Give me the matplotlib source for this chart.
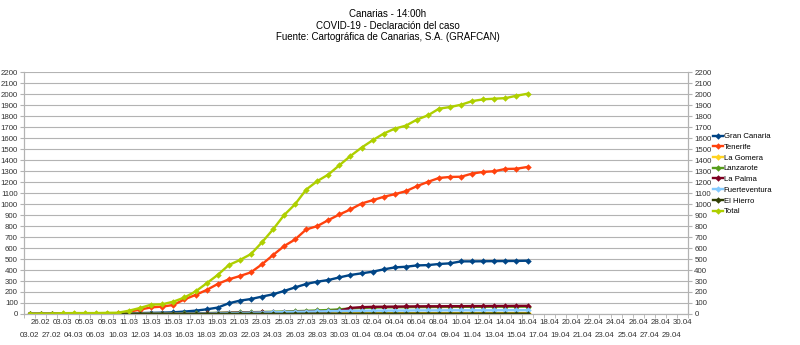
import numpy as np
import matplotlib.pyplot as plt

plt.rcParams['font.family'] = ['Liberation Sans', 'DejaVu Sans']

# categories (dates as in the source sheet)
dates = ['03.02', '26.02', '27.02', '03.03', '04.03', '05.03', '06.03', '09.03']
dates += ['%02d.03' % d for d in range(10, 32)]
dates += ['%02d.04' % d for d in range(1, 31)]

gran_canaria = [0, 0, 0, 2, 3, 3, 3, 3, 4, 6, 8, 10, 12, 15, 22, 30, 42, 58, 97, 121,
                136, 158, 179, 209, 242, 273, 294, 309, 333, 355, 370, 385, 406, 424, 430, 442,
                445, 455, 461, 479, 479, 480, 481, 482, 483, 485]
tenerife = [0, 1, 2, 3, 3, 3, 3, 4, 5, 20, 40, 60, 67, 82, 133, 173, 218, 273, 315, 345,
            379, 452, 536, 618, 679, 770, 800, 855, 906, 952, 1006, 1036, 1067, 1091, 1118, 1164,
            1203, 1239, 1248, 1250, 1279, 1294, 1300, 1321, 1323, 1339]
la_gomera = [1, 1, 1, 1, 1, 1, 1, 1, 1, 1, 1, 1, 1, 1, 1, 2, 2, 2, 3, 3,
             3, 3, 4, 4, 4, 5, 5, 5, 5, 6, 6, 6, 7, 7, 7, 7,
             7, 8, 8, 8, 8, 8, 8, 8, 8, 8]
lanzarote = [0, 0, 0, 0, 0, 0, 0, 0, 0, 1, 2, 3, 3, 4, 5, 6, 8, 10, 12, 14,
             16, 18, 20, 22, 25, 28, 32, 36, 42, 50, 55, 58, 60, 61, 62, 63,
             63, 64, 64, 65, 65, 65, 66, 66, 66, 67]
la_palma = [0, 0, 0, 0, 0, 0, 0, 0, 0, 0, 0, 0, 1, 2, 2, 3, 5, 8, 10, 12,
            13, 14, 15, 17, 19, 21, 23, 25, 30, 55, 62, 65, 66, 67, 68, 69,
            70, 70, 71, 71, 72, 72, 73, 73, 74, 74]
fuerteventura = [0, 0, 0, 0, 0, 0, 0, 0, 0, 0, 0, 1, 1, 1, 2, 3, 4, 5, 7, 9,
                 11, 13, 15, 17, 19, 21, 23, 25, 27, 28, 29, 30, 30, 31, 31, 32,
                 32, 32, 33, 33, 33, 33, 33, 34, 34, 34]
el_hierro = [0, 0, 0, 0, 0, 0, 0, 0, 0, 0, 0, 0, 0, 0, 0, 0, 1, 1, 1, 1,
             1, 1, 1, 1, 2, 2, 2, 2, 2, 2, 3, 3, 3, 3, 3, 3,
             3, 3, 3, 3, 3, 3, 3, 3, 3, 3]
total = [1, 2, 3, 7, 8, 8, 8, 10, 11, 30, 55, 85, 88, 112, 150, 205, 279, 355, 445, 491,
         545, 652, 770, 900, 1000, 1133, 1210, 1270, 1355, 1439, 1515, 1582, 1643, 1688, 1715, 1770,
         1809, 1870, 1885, 1906, 1939, 1955, 1961, 1966, 1988, 2006]

series = [('Gran Canaria', gran_canaria, '#004586'),
          ('Tenerife', tenerife, '#ff420e'),
          ('La Gomera', la_gomera, '#ffd320'),
          ('Lanzarote', lanzarote, '#579d1c'),
          ('La Palma', la_palma, '#7e0021'),
          ('Fuerteventura', fuerteventura, '#83caff'),
          ('El Hierro', el_hierro, '#314004'),
          ('Total', total, '#aecf00')]

fig = plt.figure(figsize=(8, 3.45), dpi=100)
ax = fig.add_axes([0.03, 0.09, 0.83, 0.70])

x = np.arange(len(dates))
for name, vals, col in series:
    ax.plot(x[:len(vals)], vals, color=col, lw=1.7, marker='D', ms=3.3,
            markeredgewidth=0, label=name, zorder=3)

ax.set_xlim(-0.5, len(dates) - 0.5)
ax.set_ylim(0, 2200)
ax.set_yticks(np.arange(0, 2201, 100))
ax.yaxis.grid(True, color='#b3b3b3', lw=0.8)
ax.set_axisbelow(True)

lab_size = 5.7
# dates are staggered on two rows: odd positions above, even ones below
ax.set_xticks(x[1::2])
ax.set_xticklabels(dates[1::2], fontsize=lab_size, color='#333333')
ax.set_xticks(np.arange(-0.5, len(dates), 1), minor=True)
ax.tick_params(axis='x', which='major', length=0, pad=3.5)
ax.tick_params(axis='x', which='minor', length=3, color='#b3b3b3')
ax.tick_params(axis='y', labelsize=lab_size, labelcolor='#333333', length=3, color='#b3b3b3', pad=1.5)

sec = ax.secondary_xaxis('bottom')
sec.set_xticks(x[0::2])
sec.set_xticklabels(dates[0::2], fontsize=lab_size, color='#333333')
sec.tick_params(axis='x', length=0, pad=13)
sec.spines['bottom'].set_visible(False)

ax2 = ax.twinx()
ax2.set_ylim(0, 2200)
ax2.set_yticks(np.arange(0, 2201, 100))
ax2.tick_params(axis='y', labelsize=lab_size, labelcolor='#333333', length=3, color='#b3b3b3', pad=1.5)

for a in (ax, ax2):
    a.spines['top'].set_visible(False)
    for s in ('left', 'right', 'bottom'):
        a.spines[s].set_color('#b3b3b3')

ax.legend(loc='upper left', bbox_to_anchor=(0.891, 0.615), bbox_transform=fig.transFigure,
          frameon=False, fontsize=5.6, handlelength=1.3, handletextpad=0.1,
          labelspacing=0.42, borderaxespad=0, borderpad=0)

fig.text(0.485, 0.959, 'Canarias - 14:00h', ha='center', va='center', fontsize=7)
fig.text(0.485, 0.9255, 'COVID-19 - Declaración del caso', ha='center', va='center', fontsize=7)
fig.text(0.485, 0.8935, 'Fuente: Cartográfica de Canarias, S.A. (GRAFCAN)', ha='center',
         va='center', fontsize=7)

fig.savefig('out.png', dpi=100)
